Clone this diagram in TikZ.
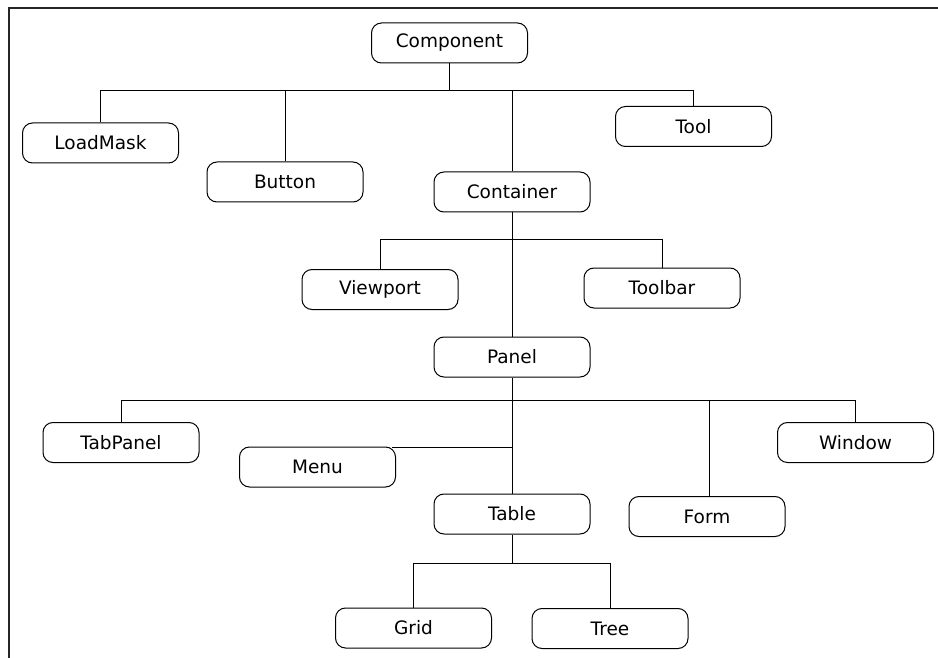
\documentclass[tikz,border=0pt]{standalone}
\usepackage{fontspec}
\setmainfont{DejaVu Sans}
\usetikzlibrary{calc}
\tikzset{
  cls/.style={draw, line width=1pt, rounded corners=10pt, minimum width=156pt, minimum height=40pt, inner sep=0pt, font=\fontsize{18.5}{22}\selectfont},
  link/.style={line width=0.9pt},
  frameline/.style={line width=2pt, black!85}
}
\begin{document}
\begin{tikzpicture}[x=1pt,y=-1pt]
\useasboundingbox (0,0) rectangle (938,658);
\draw[frameline] (8.5,658) -- (8.5,8.5) -- (938,8.5);

\node[cls] (Component) at (449.5,43) {Component};
\node[cls] (LoadMask) at (100.5,143) {LoadMask};
\node[cls] (Button) at (285,182) {Button};
\node[cls] (Tool) at (693.5,126.5) {Tool};
\node[cls] (Container) at (512,192) {Container};
\node[cls] (Viewport) at (380,289.5) {Viewport};
\node[cls] (Toolbar) at (662,288) {Toolbar};
\node[cls] (Panel) at (512,357) {Panel};
\node[cls] (TabPanel) at (121,442.5) {TabPanel};
\node[cls] (Menu) at (317.5,467) {Menu};
\node[cls] (Table) at (512,514) {Table};
\node[cls] (Form) at (707,516.5) {Form};
\node[cls] (Window) at (855.5,442.5) {Window};
\node[cls] (Grid) at (413.5,628) {Grid};
\node[cls] (Tree) at (610,628.5) {Tree};

\coordinate (b1) at (0,90);
\coordinate (b2) at (0,239);
\coordinate (b3) at (0,400);
\coordinate (b4) at (0,563);

% level 1
\draw[link] (Component.south) -- (Component.south |- b1);
\draw[link] (LoadMask.north) -- (LoadMask.north |- b1) -- (Tool.north |- b1) -- (Tool.north);
\draw[link] (Button.north) -- (Button.north |- b1);
\draw[link] (Container.north) -- (Container.north |- b1);
% level 2
\draw[link] (Container.south) -- (Container.south |- Panel.north);
\draw[link] (Viewport.north) -- (Viewport.north |- b2) -- (Toolbar.north |- b2) -- (Toolbar.north);
% level 3
\draw[link] (Panel.south) -- (Panel.south |- Table.north);
\draw[link] (TabPanel.north) -- (TabPanel.north |- b3) -- (Window.north |- b3) -- (Window.north);
\draw[link] ($(Form.north)+(2,0)$) -- ($(Form.north |- b3)+(2,0)$);
\draw[link] ($(Menu.north east)+(-4,0.8)$) -- ($(Menu.north east -| Table.north)+(0,0.8)$);
% level 4
\draw[link] (Table.south) -- (Table.south |- b4);
\draw[link] (Grid.north) -- (Grid.north |- b4) -- (Tree.north |- b4) -- (Tree.north);
\end{tikzpicture}
\end{document}
